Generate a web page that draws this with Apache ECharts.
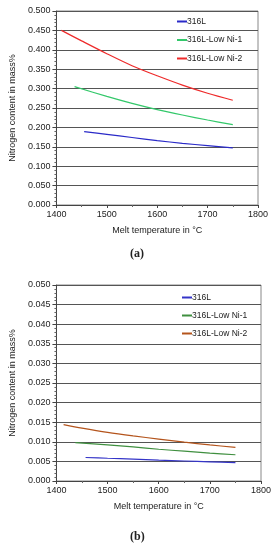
<!DOCTYPE html>
<html><head><meta charset="utf-8">
<script src="https://cdn.jsdelivr.net/npm/echarts@6/dist/echarts.min.js"></script>
<style>html,body{margin:0;padding:0;background:#fff}#c{width:276px;height:550px}</style>
</head><body><div id="c"></div>
<script>
// Panel (a)
const tempA_316L = [1455, 1500, 1550, 1600, 1650, 1700, 1750];
const valA_316L  = [0.189, 0.182, 0.174, 0.166, 0.159, 0.153, 0.147];
const tempA_Ni1  = [1436, 1500, 1550, 1600, 1650, 1700, 1750];
const valA_Ni1   = [0.305, 0.280, 0.262, 0.246, 0.232, 0.219, 0.207];
const tempA_Ni2  = [1410, 1450, 1500, 1550, 1600, 1650, 1700, 1750];
const valA_Ni2   = [0.450, 0.423, 0.390, 0.359, 0.333, 0.309, 0.288, 0.270];
// Panel (b)
const tempB_316L = [1457, 1500, 1550, 1600, 1650, 1700, 1750];
const valB_316L  = [0.0060, 0.0058, 0.0056, 0.0053, 0.0051, 0.0049, 0.0047];
const tempB_Ni1  = [1437, 1500, 1550, 1600, 1650, 1700, 1750];
const valB_Ni1   = [0.0098, 0.0092, 0.0087, 0.0081, 0.0076, 0.0071, 0.0067];
const tempB_Ni2  = [1414, 1450, 1500, 1550, 1600, 1650, 1700, 1750];
const valB_Ni2   = [0.0144, 0.0135, 0.0124, 0.0115, 0.0107, 0.0099, 0.0092, 0.0086];
const seriesNames = ['316L', '316L-Low Ni-1', '316L-Low Ni-2'];
const xTitle = 'Melt temperature in °C';
const yTitle = 'Nitrogen content in mass%';

const zip = (xs, ys) => xs.map((x, i) => [x, ys[i]]);
const font = 'Liberation Sans, Arial, sans-serif';
const chart = echarts.init(document.getElementById('c'));

function xAxis(gi) {
  return {
    type: 'value', gridIndex: gi, min: 1400, max: 1800, interval: 100,
    name: xTitle, nameLocation: 'middle', nameGap: 21,
    nameTextStyle: { fontFamily: font, fontSize: 9, color: '#222' },
    axisLine: { show: true, lineStyle: { color: '#444', width: 1 } },
    axisTick: { show: true, length: 3, lineStyle: { color: '#444' } },
    minorTick: { show: true, splitNumber: 2, length: 2, lineStyle: { color: '#666' } },
    axisLabel: { fontFamily: font, fontSize: 9, color: '#222', margin: 5, formatter: v => String(v) },
    splitLine: { show: false }
  };
}
function yAxis(gi, max, interval, dec) {
  return {
    type: 'value', gridIndex: gi, min: 0, max: max, interval: interval,
    name: yTitle, nameLocation: 'middle', nameGap: 35,
    nameTextStyle: { fontFamily: font, fontSize: 9, color: '#222' },
    axisLine: { show: true, lineStyle: { color: '#444', width: 1 } },
    axisTick: { show: true, length: 4, lineStyle: { color: '#444' } },
    minorTick: { show: true, splitNumber: 5, length: 2, lineStyle: { color: '#666' } },
    axisLabel: { fontFamily: font, fontSize: 9, color: '#222', margin: 6,
      formatter: v => v.toFixed(dec) },
    splitLine: { show: true, lineStyle: { color: '#555', width: 1 } }
  };
}
function line(name, data, color, gi) {
  return {
    type: 'line', name: name, xAxisIndex: gi, yAxisIndex: gi, data: data,
    smooth: 0.3, showSymbol: false, symbol: 'none',
    lineStyle: { color: color, width: 1.2 }, itemStyle: { color: color }
  };
}
const colA = ['#2a2ac8', '#33c86a', '#ee2a2a'];
const colB = ['#3535c8', '#3f8f3f', '#b4541c'];
function legend(gi, top, left, gap) {
  return {
    orient: 'vertical', left: left, top: top, itemGap: gap,
    itemWidth: 10, itemHeight: 2, icon: 'rect',
    data: seriesNames.map(n => (gi ? 'b:' : 'a:') + n),
    formatter: n => n.slice(2),
    textStyle: { fontFamily: font, fontSize: 8.5, color: '#222', padding: [0, 0, 0, -5] },
    selectedMode: false
  };
}
chart.setOption({
  animation: false,
  grid: [
    { left: 53, right: 18, top: 11, bottom: 345, show: true, borderColor: '#888', borderWidth: 1 },
    { left: 52, right: 15, top: 285, bottom: 69, show: true, borderColor: '#888', borderWidth: 1 }
  ],
  xAxis: [xAxis(0), xAxis(1)],
  yAxis: [yAxis(0, 0.5, 0.05, 3), yAxis(1, 0.05, 0.005, 3)],
  legend: [legend(0, 12, 172, 9.5), legend(1, 288, 177, 9)],
  series: [
    line('a:' + seriesNames[0], zip(tempA_316L, valA_316L), colA[0], 0),
    line('a:' + seriesNames[1], zip(tempA_Ni1, valA_Ni1), colA[1], 0),
    line('a:' + seriesNames[2], zip(tempA_Ni2, valA_Ni2), colA[2], 0),
    line('b:' + seriesNames[0], zip(tempB_316L, valB_316L), colB[0], 1),
    line('b:' + seriesNames[1], zip(tempB_Ni1, valB_Ni1), colB[1], 1),
    line('b:' + seriesNames[2], zip(tempB_Ni2, valB_Ni2), colB[2], 1)
  ],
  graphic: [
    { type: 'text', left: 130, top: 248, style: { text: '(a)', font: 'bold 12px "Liberation Serif", serif', fill: '#222' } },
    { type: 'text', left: 130, top: 531, style: { text: '(b)', font: 'bold 12px "Liberation Serif", serif', fill: '#222' } }
  ]
});
</script></body></html>
